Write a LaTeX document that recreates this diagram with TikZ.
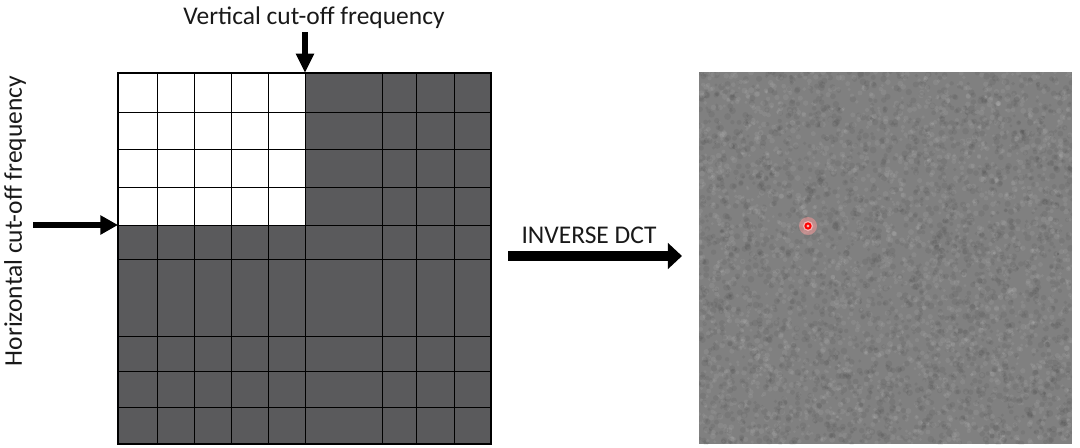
\documentclass[tikz,border=0pt]{standalone}
\usepackage{fontspec}
\setmainfont{Carlito}
\usetikzlibrary{arrows.meta}
\definecolor{cellgray}{RGB}{90,90,92}
\definecolor{noisegray}{RGB}{128,128,128}

\begin{document}
\begin{tikzpicture}[x=0.02cm, y=-0.02cm,
    lbl/.style={font=\fontsize{14.5}{17}\selectfont, text=black!90, inner sep=0pt, anchor=base},
    gridline/.style={line width=0.5pt, black}]
\useasboundingbox (0,0) rectangle (1080,447);

% coefficient grid
\fill[white] (118,73) rectangle (305,225);
\fill[cellgray] (305,73) rectangle (491,444);
\fill[cellgray] (118,225) rectangle (305,444);
\foreach \x in {157,194,231,268,305,382,416,454}
    \draw[gridline] (\x,73) -- (\x,444);
\foreach \y in {112,149,187,225,259,336,371,407}
    \draw[gridline] (118,\y) -- (491,\y);
\draw[line width=0.8pt] (118,73) rectangle (491,444);

% labels
\node[lbl] (vlab) at (314,24) {Vertical cut-off frequency};
\node[lbl, rotate=90] (hlab) at (22,221) {Horizontal cut-off frequency};
\node[lbl] (dlab) at (589,243) {INVERSE DCT};

% arrows
\coordinate (vt) at (305,32);
\coordinate (vc) at (305,73);
\coordinate (ht) at (33,225);
\coordinate (hc) at (118,225);
\coordinate (ds) at (508,256);
\coordinate (de) at (682,256);
\draw[line width=2.9pt, -{Triangle[width=9.8pt, length=11pt]}] (vt) -- (vc);
\draw[line width=3.4pt, -{Triangle[width=10.4pt, length=10pt]}] (ht) -- (hc);
\draw[line width=5.4pt, -{Triangle[width=14.4pt, length=8pt]}] (ds) -- (de);

% reconstructed image
\fill[noisegray] (699,72) rectangle (1072,444);
\begin{scope}
    \clip (699,72) rectangle (1072,444);
    \pgfmathsetseed{42}
    \foreach \i in {1,...,2600}{
        \pgfmathsetmacro{\px}{699+373*rnd}
        \pgfmathsetmacro{\py}{72+372*rnd}
        \pgfmathsetmacro{\pr}{1.4+1.6*rnd}
        \fill[white, opacity=0.07] (\px,\py) circle (\pr);
    }
    \foreach \i in {1,...,2600}{
        \pgfmathsetmacro{\px}{699+373*rnd}
        \pgfmathsetmacro{\py}{72+372*rnd}
        \pgfmathsetmacro{\pr}{1.6+1.8*rnd}
        \fill[black, opacity=0.06] (\px,\py) circle (\pr);
    }
\end{scope}
\fill[gray!70!black] (1058,254) circle (0.8);

% source point
\coordinate (sp) at (808,226);
\fill[red!40!white, opacity=0.5] (sp) circle (9);
\fill[red!25!white, opacity=0.8] (sp) circle (5);
\draw[red, line width=1.1pt] (sp) circle (2.6);
\end{tikzpicture}
\end{document}
